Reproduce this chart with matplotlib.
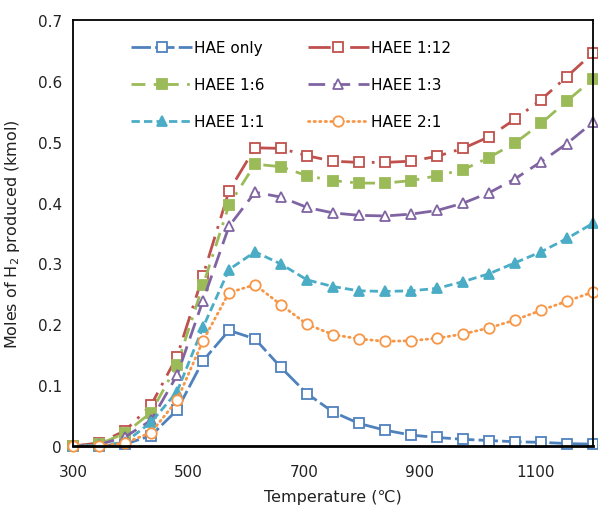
import matplotlib
matplotlib.use("Agg")
import matplotlib.pyplot as plt
from matplotlib.ticker import FuncFormatter

plt.rcParams['font.family'] = ['DejaVu Sans']

temperature = [300, 345, 390, 435, 480, 525, 570, 615, 660, 705, 750,
               795, 840, 885, 930, 975, 1020, 1065, 1110, 1155, 1200]

hae_only = [0, 0, 0.003, 0.017, 0.059, 0.140, 0.190, 0.176, 0.129, 0.086, 0.056,
            0.037, 0.026, 0.018, 0.014, 0.011, 0.009, 0.007, 0.006, 0.004, 0.003]
haee_1_12 = [0, 0.005, 0.025, 0.067, 0.147, 0.280, 0.419, 0.490, 0.489, 0.477, 0.468,
             0.466, 0.466, 0.468, 0.476, 0.489, 0.508, 0.537, 0.569, 0.607, 0.646]
haee_1_6 = [0, 0.003, 0.021, 0.055, 0.133, 0.264, 0.396, 0.463, 0.459, 0.444, 0.436,
            0.432, 0.432, 0.436, 0.444, 0.454, 0.474, 0.498, 0.530, 0.567, 0.603]
haee_1_3 = [0, 0.002, 0.015, 0.042, 0.116, 0.239, 0.361, 0.417, 0.409, 0.392, 0.383,
            0.379, 0.378, 0.381, 0.387, 0.399, 0.416, 0.439, 0.467, 0.497, 0.532]
haee_1_1 = [0, 0.001, 0.006, 0.039, 0.089, 0.195, 0.290, 0.319, 0.299, 0.273, 0.262,
            0.255, 0.254, 0.255, 0.259, 0.270, 0.283, 0.301, 0.319, 0.341, 0.366]
haee_2_1 = [0, 0, 0.005, 0.022, 0.075, 0.173, 0.252, 0.265, 0.232, 0.200, 0.183,
            0.176, 0.172, 0.173, 0.177, 0.184, 0.194, 0.207, 0.223, 0.238, 0.253]

x_ticks = [300, 500, 700, 900, 1100]
y_ticks = [0, 0.1, 0.2, 0.3, 0.4, 0.5, 0.6, 0.7]

fig = plt.figure(figsize=(5.98, 5.10), dpi=100)
ax = fig.add_axes([73/598, 63/510, (593-73)/598, (447-21)/510])

lw = 2.0
ms = 7.5
series = [
    ("HAE only", hae_only, "#4F81BD", "s", "white", (0, (7, 1.5))),
    ("HAEE 1:12", haee_1_12, "#C0504D", "s", "white", (0, (8, 3, 1, 3))),
    ("HAEE 1:6", haee_1_6, "#9BBB59", "s", "#9BBB59", (0, (5, 3, 1, 3))),
    ("HAEE 1:3", haee_1_3, "#8064A2", "^", "white", (0, (6, 3))),
    ("HAEE 1:1", haee_1_1, "#4BACC6", "^", "#4BACC6", (0, (3, 1.5))),
    ("HAEE 2:1", haee_2_1, "#F79646", "o", "white", (0, (0.5, 1.5))),
]
handles = {}
for name, vals, col, mk, fc, ls in series:
    h, = ax.plot(temperature, vals, color=col, lw=lw, linestyle=ls,
                 marker=mk, markersize=ms, markerfacecolor=fc,
                 markeredgecolor=col, markeredgewidth=1.3, clip_on=False,
                 label=name, dash_capstyle='round' if name == "HAEE 2:1" else 'butt')
    handles[name] = h

ax.set_xlim(300, 1200)
ax.set_ylim(0, 0.7)
ax.set_xticks(x_ticks)
ax.set_yticks(y_ticks)
ax.yaxis.set_major_formatter(FuncFormatter(lambda v, p: "0" if v == 0 else f"{v:.1f}"))
ax.tick_params(axis='y', length=0, labelsize=11, colors='#222222', pad=8)
ax.tick_params(axis='x', length=0, labelsize=11, colors='#222222', pad=13)
for s in ax.spines.values():
    s.set_linewidth(1.3)
    s.set_color('black')
ax.spines['bottom'].set_linewidth(2.0)

ax.set_xlabel("Temperature (\u2103)", fontsize=11.5, color='#222222', labelpad=7)
ax.set_ylabel("Moles of H$_2$ produced (kmol)", fontsize=11.5, color='#222222', labelpad=11)

order = ["HAE only", "HAEE 1:6", "HAEE 1:1", "HAEE 1:12", "HAEE 1:3", "HAEE 2:1"]
ax.legend([handles[n] for n in order], order, ncol=2, frameon=False,
          loc='upper left', bbox_to_anchor=(0.085, 0.985), fontsize=11,
          handlelength=4.0, handletextpad=0.15, columnspacing=2.8,
          labelspacing=1.45)

fig.savefig("out.png", dpi=100)
